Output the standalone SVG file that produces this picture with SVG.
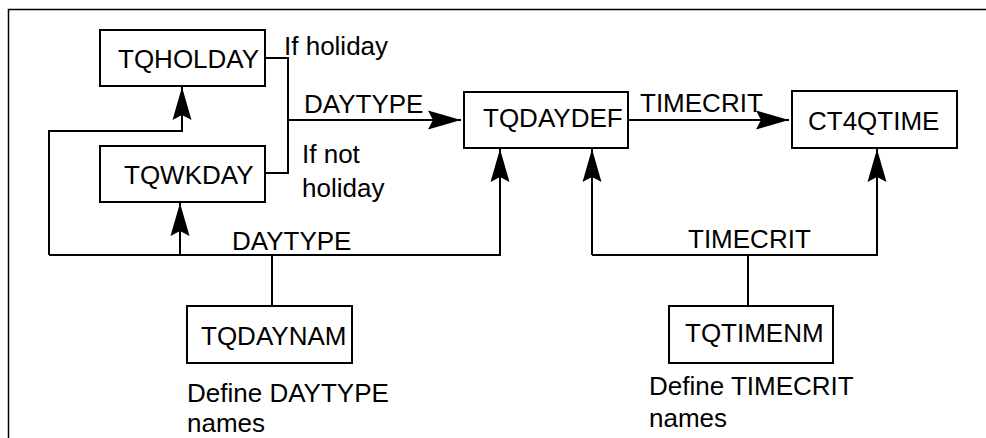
<svg xmlns="http://www.w3.org/2000/svg" width="986" height="438" viewBox="0 0 986 438">
<style>
text{font-family:"Liberation Sans",Arial,sans-serif;font-size:26px;fill:#000}
.box{fill:#fff;stroke:#000;stroke-width:2}
.ln{fill:none;stroke:#000;stroke-width:2}
.frame{fill:none;stroke:#000;stroke-width:1.5}
</style>
<defs>
<marker id="ah" markerUnits="userSpaceOnUse" markerWidth="40" markerHeight="24" viewBox="-35 -12 37 24" refX="0" refY="0" orient="auto">
<path d="M0,0 L-33,-9.5 L-28,0 L-33,9.5 Z" fill="#000"/>
</marker>
</defs>
<rect width="986" height="438" fill="#fff"/>
<path class="frame" d="M8.5,438 V9.5 H986"/>
<g id="connectors">
<path class="ln" d="M265,58 H288 V173 H265"/>
<path class="ln" d="M288,120 H461" marker-end="url(#ah)"/>
<path class="ln" d="M628,120 H789" marker-end="url(#ah)"/>
<path class="ln" d="M49,255 V131 H182 V87" marker-end="url(#ah)"/>
<path class="ln" d="M180,255 V203" marker-end="url(#ah)"/>
<path class="ln" d="M49,255 H500 V149" marker-end="url(#ah)"/>
<path class="ln" d="M272,255 V306"/>
<path class="ln" d="M592,255 V149" marker-end="url(#ah)"/>
<path class="ln" d="M592,255 H877 V149" marker-end="url(#ah)"/>
<path class="ln" d="M748,255 V306"/>
<text x="284" y="55">If holiday</text>
<text x="302" y="163">If not</text>
<text x="302" y="197">holiday</text>
<text x="304" y="113">DAYTYPE</text>
<text x="640" y="112">TIMECRIT</text>
<text x="232" y="250">DAYTYPE</text>
<text x="688" y="248">TIMECRIT</text>
</g>
<g id="TQHOLDAY"><rect class="box" x="100" y="30" width="165" height="56"/><text x="118" y="68">TQHOLDAY</text></g>
<g id="TQWKDAY"><rect class="box" x="100" y="146" width="165" height="56"/><text x="124" y="184">TQWKDAY</text></g>
<g id="TQDAYDEF"><rect class="box" x="464" y="92" width="164" height="56"/><text x="483" y="127">TQDAYDEF</text></g>
<g id="CT4QTIME"><rect class="box" x="792" y="91" width="165" height="57"/><text x="808" y="130">CT4QTIME</text></g>
<g id="TQDAYNAM"><rect class="box" x="187" y="306" width="165" height="57"/><text x="201" y="345">TQDAYNAM</text><text x="187" y="402">Define DAYTYPE</text><text x="187" y="432">names</text></g>
<g id="TQTIMENM"><rect class="box" x="669" y="306" width="164" height="57"/><text x="685" y="342">TQTIMENM</text><text x="649" y="395">Define TIMECRIT</text><text x="649" y="427">names</text></g>
</svg>
